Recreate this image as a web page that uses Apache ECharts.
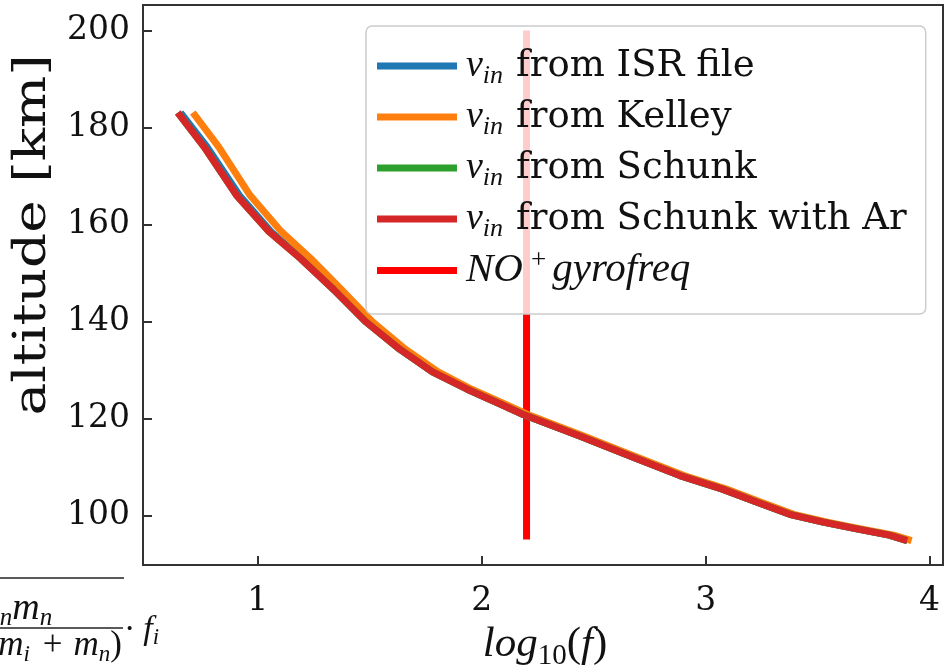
<!DOCTYPE html>
<html>
<head>
<meta charset="utf-8">
<script src="https://cdn.jsdelivr.net/npm/echarts@6/dist/echarts.min.js"></script>
<style>
html,body{margin:0;padding:0;background:#fff;}
#chart{width:946px;height:670px;}
</style>
</head>
<body>
<div id="chart"></div>
<script>
// ---- data ----
const altitude = [182.5, 176.0, 166.0, 158.5, 153.0, 146.5, 140.0, 134.2, 129.6, 126.0, 123.0, 120.8, 116.3, 112.2, 108.2, 105.4, 102.7, 100.2, 98.6, 97.2, 95.9, 95.0];
const logfISR     = [0.664, 0.773, 0.917, 1.058, 1.194, 1.340, 1.480, 1.635, 1.780, 1.935, 2.080, 2.185, 2.440, 2.665, 2.885, 3.075, 3.230, 3.375, 3.525, 3.675, 3.820, 3.885];
const logfKelley  = [0.719, 0.825, 0.965, 1.105, 1.235, 1.375, 1.510, 1.660, 1.805, 1.955, 2.100, 2.205, 2.458, 2.683, 2.903, 3.093, 3.248, 3.393, 3.543, 3.693, 3.840, 3.905];
const logfSchunk  = [0.652, 0.760, 0.905, 1.050, 1.190, 1.340, 1.480, 1.635, 1.780, 1.935, 2.080, 2.185, 2.440, 2.665, 2.885, 3.075, 3.230, 3.375, 3.525, 3.675, 3.820, 3.885];
const logfSchunkAr= [0.652, 0.760, 0.905, 1.050, 1.190, 1.340, 1.480, 1.635, 1.780, 1.935, 2.080, 2.185, 2.440, 2.665, 2.885, 3.075, 3.230, 3.375, 3.525, 3.675, 3.820, 3.885];
const gyroLogf = [2.2, 2.2];
const gyroAlt  = [95, 200];
const xTicks = [1, 2, 3, 4];
const yTicks = [100, 120, 140, 160, 180, 200];

const pairs = (xs, ys) => xs.map((x, i) => [x, ys[i]]);

const serif = 'DejaVu Serif';
const mathFont = 'Liberation Serif';

const legendLabels = {
  isr: '{nu|ν}{sub|in}{t|from ISR file}',
  kelley: '{nu|ν}{sub|in}{t|from Kelley}',
  schunk: '{nu|ν}{sub|in}{t|from Schunk}',
  schunkAr: '{nu|ν}{sub|in}{t|from Schunk with Ar}',
  gyro: '{it|NO}{sup|+}{it|gyrofreq}'
};

const lineW = 7;
function curve(name, color, xs) {
  return {
    name: name, type: 'line', data: pairs(xs, altitude),
    showSymbol: false, symbol: 'none', z: 3,
    color: color,
    lineStyle: { color: color, width: lineW, cap: 'square', join: 'round' }
  };
}

const chart = echarts.init(document.getElementById('chart'), null, { renderer: 'canvas' });
chart.setOption({
  animation: false,
  backgroundColor: '#ffffff',
  grid: { left: 143, right: 3, top: 5, bottom: 105, show: true, borderColor: '#333', borderWidth: 2, backgroundColor: 'transparent' },
  xAxis: {
    type: 'value', min: 0.487, max: 4.06,
    axisLine: { show: true, lineStyle: { color: '#333', width: 2 } },
    axisTick: { show: true, inside: true, length: 9, customValues: xTicks, lineStyle: { color: '#333', width: 2 } },
    axisLabel: { customValues: xTicks, margin: 20, color: '#111', fontFamily: serif, fontSize: 33 },
    splitLine: { show: false }
  },
  yAxis: {
    type: 'value', min: 89.75, max: 205.25,
    axisLine: { show: true, lineStyle: { color: '#333', width: 2 } },
    axisTick: { show: true, inside: true, length: 9, customValues: yTicks, lineStyle: { color: '#333', width: 2 } },
    axisLabel: { customValues: yTicks, margin: 13, color: '#111', fontFamily: serif, fontSize: 33 },
    splitLine: { show: false }
  },
  legend: {
    orient: 'vertical', left: 366, top: 26,
    data: ['isr', 'kelley', 'schunk', 'schunkAr', 'gyro'],
    icon: 'rect', itemWidth: 80, itemHeight: 7, itemGap: 5,
    padding: [17, 19, 20, 11],
    backgroundColor: 'rgba(255,255,255,0.8)', borderColor: '#cccccc', borderWidth: 1.5, borderRadius: 6,
    formatter: name => legendLabels[name],
    textStyle: {
      color: '#111', fontFamily: serif, fontSize: 37, lineHeight: 40, padding: [0, 0, 0, 4],
      rich: {
        nu: { fontFamily: mathFont, fontStyle: 'italic', fontSize: 38, lineHeight: 40, color: '#111' },
        sub: { fontFamily: mathFont, fontStyle: 'italic', fontSize: 26, lineHeight: 20, padding: [20, 13, 0, 0], color: '#111' },
        t: { fontFamily: serif, fontSize: 37, lineHeight: 40, color: '#111' },
        it: { fontFamily: mathFont, fontStyle: 'italic', fontSize: 41, lineHeight: 40, color: '#111', padding: [0, 4, 0, 0] },
        sup: { fontFamily: mathFont, fontSize: 27, lineHeight: 20, padding: [0, 6, 20, 4], color: '#111' }
      }
    }
  },
  series: [
    { name: 'gyro', type: 'line', data: pairs(gyroLogf, gyroAlt), showSymbol: false, symbol: 'none', z: 1,
      color: '#ff0000', lineStyle: { color: '#ff0000', width: lineW, cap: 'butt' } },
    curve('isr', '#1f77b4', logfISR),
    curve('kelley', '#ff7f0e', logfKelley),
    curve('schunk', '#2ca02c', logfSchunk),
    curve('schunkAr', '#d62728', logfSchunkAr)
  ],
  graphic: [
    { type: 'text', x: 34, y: 235, rotation: Math.PI / 2, scaleX: 1.25, scaleY: 1,
      style: { text: 'altitude [km]', fontFamily: serif, fontSize: 44, fill: '#111', align: 'center', verticalAlign: 'middle' } },
    { type: 'text', x: 545, y: 645,
      style: { text: '{i|log}{s|10}{n|(}{i|f}{n|)}', align: 'center', verticalAlign: 'middle',
        rich: {
          i: { fontFamily: mathFont, fontStyle: 'italic', fontSize: 43, lineHeight: 44, fill: '#111' },
          n: { fontFamily: mathFont, fontSize: 43, lineHeight: 44, fill: '#111' },
          s: { fontFamily: mathFont, fontSize: 29, lineHeight: 22, padding: [22, 0, 0, 0], fill: '#111' }
        } } },
    { type: 'line', shape: { x1: 0, y1: 578, x2: 124, y2: 578 }, style: { stroke: '#222', lineWidth: 1.5 } },
    { type: 'line', shape: { x1: 0, y1: 628, x2: 123, y2: 628 }, style: { stroke: '#222', lineWidth: 1.5 } },
    { type: 'text', x: -17, y: 609,
      style: { text: '{i|ν}{s|n}{i|m}{s|n}', align: 'left', verticalAlign: 'middle',
        rich: {
          i: { fontFamily: mathFont, fontStyle: 'italic', fontSize: 38, lineHeight: 36, fill: '#111' },
          s: { fontFamily: mathFont, fontStyle: 'italic', fontSize: 25, lineHeight: 18, padding: [18, 0, 0, 0], fill: '#111' }
        } } },
    { type: 'text', x: 122, y: 646,
      style: { text: '{n|(}{i|m}{s|i}{op|+}{i|m}{s|n}{n|)}', align: 'right', verticalAlign: 'middle',
        rich: {
          i: { fontFamily: mathFont, fontStyle: 'italic', fontSize: 35, lineHeight: 34, fill: '#111' },
          n: { fontFamily: mathFont, fontSize: 35, lineHeight: 34, fill: '#111' },
          op: { fontFamily: mathFont, fontSize: 35, lineHeight: 34, fill: '#111', padding: [0, 11, 0, 13] },
          s: { fontFamily: mathFont, fontStyle: 'italic', fontSize: 23, lineHeight: 16, padding: [18, 0, 0, 0], fill: '#111' }
        } } },
    { type: 'text', x: 124, y: 630,
      style: { text: '{n|·}{i|f}{s|i}', align: 'left', verticalAlign: 'middle',
        rich: {
          i: { fontFamily: mathFont, fontStyle: 'italic', fontSize: 34, lineHeight: 32, fill: '#111', padding: [0, 0, 0, 8] },
          n: { fontFamily: mathFont, fontSize: 34, lineHeight: 32, fill: '#111' },
          s: { fontFamily: mathFont, fontStyle: 'italic', fontSize: 23, lineHeight: 16, padding: [16, 0, 0, 0], fill: '#111' }
        } } }
  ]
});
</script>
</body>
</html>
